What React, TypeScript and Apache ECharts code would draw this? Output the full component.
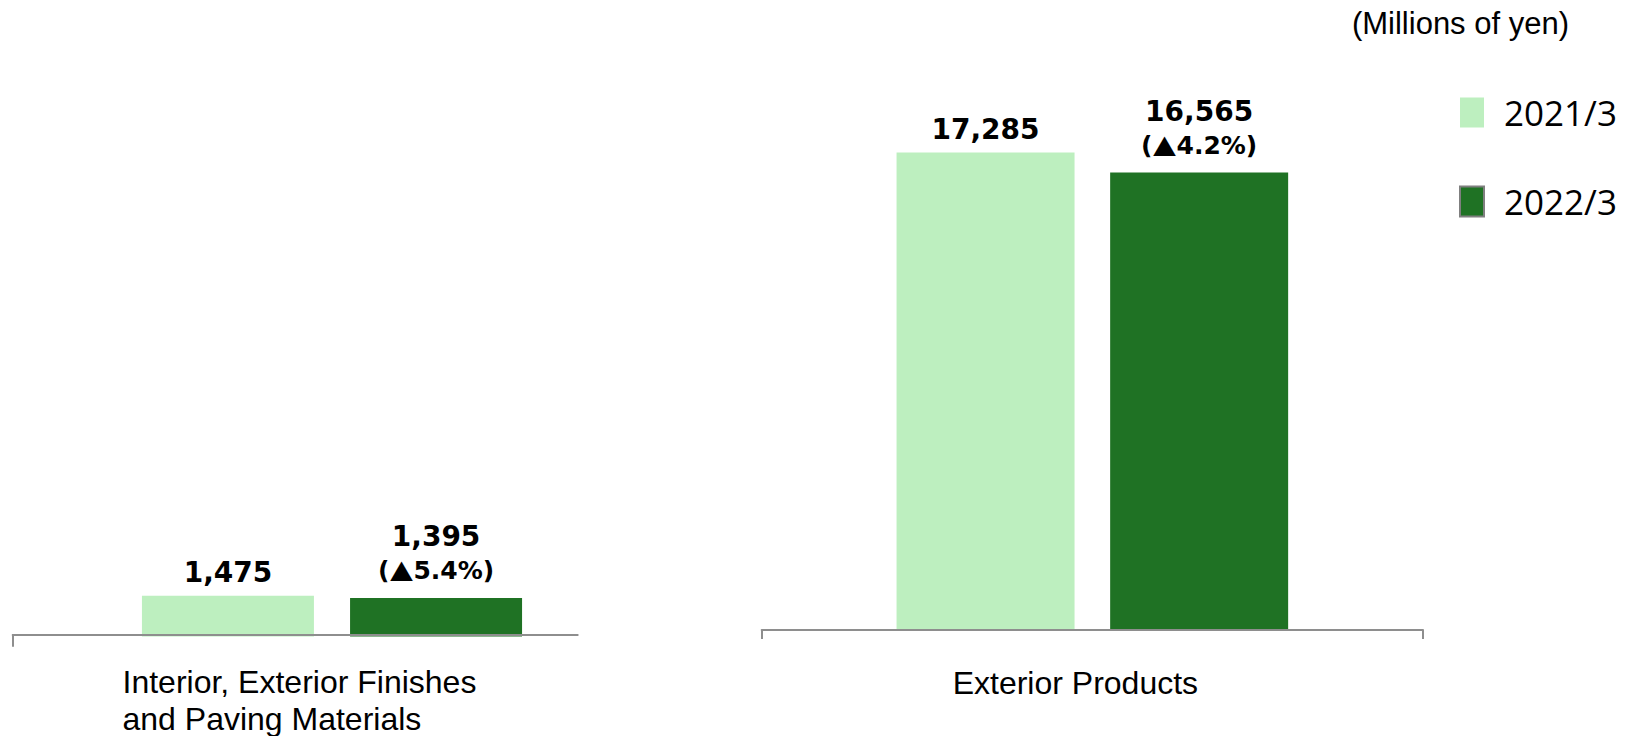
import React, { useEffect, useRef } from 'react';
import * as echarts from 'echarts';

// ---- data ----
const categories = ['Interior, Exterior Finishes\nand Paving Materials', 'Exterior Products'];
const seriesNames = ['2021/3', '2022/3'];
const values2021 = [1475, 17285];
const values2022 = [1395, 16565];
const changePct = [-5.4, -4.2];
const unitLabel = '(Millions of yen)';

// ---- styles ----
const LIGHT = '#bdefbf';
const DARK = '#1f7224';
const AXIS = '#8e8e8e';
const Y_MAX = 20000;
const LABEL_FONT = 'DejaVu Sans';
const CAT_FONT = 'Liberation Sans';

const fmt = (v: number) => v.toLocaleString('en-US');

function buildOption() {
  const labelBase = {
    show: true,
    position: 'top',
    color: '#000',
    fontFamily: LABEL_FONT,
    fontWeight: 'bold',
    fontSize: 28,
    lineHeight: 34,
  };
  const rich2022 = {
    a: { fontFamily: LABEL_FONT, fontWeight: 'bold', fontSize: 28, lineHeight: 34, color: '#000' },
    b: { fontFamily: LABEL_FONT, fontWeight: 'bold', fontSize: 25, lineHeight: 34, color: '#000' },
    t: { fontFamily: 'Noto Sans CJK JP', fontWeight: 'bold', fontSize: 24, lineHeight: 34, color: '#000' },
  };
  const label2022 = (i: number) => ({
    ...labelBase,
    distance: 10,
    formatter: (p: any) =>
      `{a|${fmt(p.value)}}\n{b|(}{t|${changePct[i] < 0 ? '▲' : '+'}}{b|${Math.abs(changePct[i]).toFixed(1)}%)}`,
    rich: rich2022,
  });
  const label2021 = {
    ...labelBase,
    distance: 6,
    formatter: (p: any) => fmt(p.value),
  };

  const leftLines = categories[0].split('\n');

  return {
    animation: false,
    backgroundColor: '#ffffff',
    title: {
      text: unitLabel,
      right: 62,
      top: 7,
      padding: 0,
      textStyle: { fontFamily: CAT_FONT, fontSize: 31, fontWeight: 'normal', color: '#000', lineHeight: 32 },
    },
    legend: {
      orient: 'vertical',
      left: 1459,
      top: 95,
      padding: 0,
      itemWidth: 24,
      itemHeight: 30,
      itemGap: 54,
      icon: 'rect',
      selectedMode: false,
      textStyle: { fontFamily: 'Open Sans', fontSize: 35, color: '#000', lineHeight: 30, padding: [0, 0, 0, 15] },
      data: [
        { name: seriesNames[0] },
        { name: seriesNames[1], itemStyle: { borderColor: '#7f7f7f', borderWidth: 2 } },
      ],
    },
    grid: [
      { left: 122, top: 84, width: 420, height: 552.5 },
      { left: 12.7, top: 84, width: 565, height: 551 },
      { left: 12.7, top: 635, width: 1, height: 11 },
      { left: 761.7, top: 77.5, width: 661.3, height: 552.5 },
    ],
    xAxis: [
      {
        gridIndex: 0,
        type: 'category',
        data: [categories[0]],
        axisLine: { show: false },
        axisTick: { show: false },
        axisLabel: {
          margin: 27,
          formatter: () => leftLines.map((l) => `{a|${l}}`).join('\n'),
          rich: {
            a: { width: 419, align: 'left', fontFamily: CAT_FONT, fontSize: 32, lineHeight: 37, color: '#000' },
          },
        },
      },
      {
        gridIndex: 1,
        type: 'category',
        data: [''],
        z: 5,
        axisLine: { show: true, lineStyle: { color: AXIS, width: 2 } },
        axisTick: { show: false },
        axisLabel: { show: false },
      },
      { gridIndex: 2, type: 'category', data: [''], show: false },
      {
        gridIndex: 3,
        type: 'category',
        data: [categories[1]],
        z: 5,
        axisLine: { show: true, lineStyle: { color: AXIS, width: 2 } },
        axisTick: { show: true, length: 9, lineStyle: { color: AXIS, width: 2 } },
        axisLabel: {
          margin: 34,
          padding: [0, 34, 0, 0],
          fontFamily: CAT_FONT,
          fontSize: 32,
          lineHeight: 37,
          color: '#000',
        },
      },
    ],
    yAxis: [
      { gridIndex: 0, type: 'value', min: 0, max: Y_MAX, show: false },
      { gridIndex: 1, type: 'value', min: 0, max: Y_MAX, show: false },
      {
        gridIndex: 2,
        type: 'value',
        min: 0,
        max: 1,
        axisLine: { show: true, lineStyle: { color: AXIS, width: 2 } },
        axisTick: { show: false },
        axisLabel: { show: false },
        splitLine: { show: false },
      },
      { gridIndex: 3, type: 'value', min: 0, max: Y_MAX, show: false },
    ],
    series: [
      {
        type: 'bar',
        name: seriesNames[0],
        xAxisIndex: 0,
        yAxisIndex: 0,
        data: [values2021[0]],
        barWidth: 172,
        barGap: '21%',
        itemStyle: { color: LIGHT },
        label: label2021,
      },
      {
        type: 'bar',
        name: seriesNames[1],
        xAxisIndex: 0,
        yAxisIndex: 0,
        data: [values2022[0]],
        barWidth: 172,
        barGap: '21%',
        itemStyle: { color: DARK },
        label: label2022(0),
      },
      {
        type: 'bar',
        name: seriesNames[0],
        xAxisIndex: 3,
        yAxisIndex: 3,
        data: [values2021[1]],
        barWidth: 178,
        barGap: '20%',
        itemStyle: { color: LIGHT },
        label: label2021,
      },
      {
        type: 'bar',
        name: seriesNames[1],
        xAxisIndex: 3,
        yAxisIndex: 3,
        data: [values2022[1]],
        barWidth: 178,
        barGap: '20%',
        itemStyle: { color: DARK },
        label: label2022(1),
      },
    ],
  };
}

export default function App() {
  const ref = useRef<HTMLDivElement | null>(null);
  useEffect(() => {
    if (!ref.current) return;
    const chart = echarts.init(ref.current, undefined, { renderer: 'svg' });
    chart.setOption(buildOption() as any);
    return () => chart.dispose();
  }, []);
  return (
    <div
      ref={ref}
      style={{ position: 'fixed', left: 0, top: 0, width: 1631, height: 736, background: '#fff' }}
    />
  );
}
